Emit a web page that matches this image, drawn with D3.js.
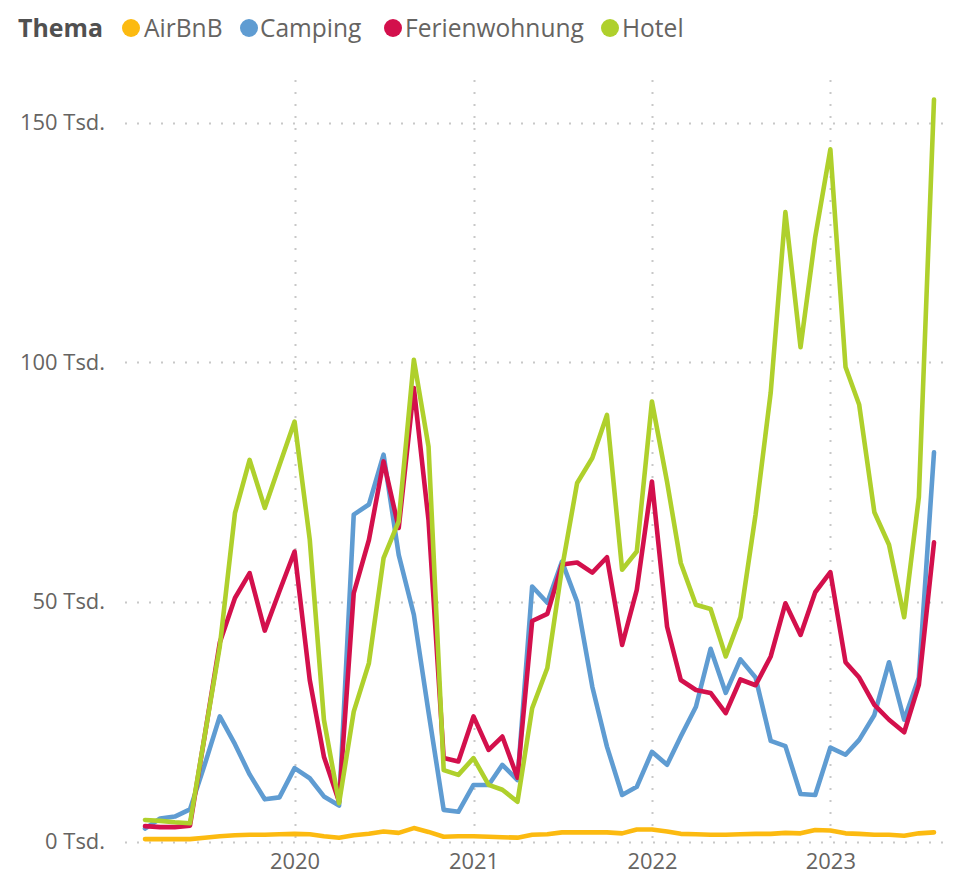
<!DOCTYPE html>
<html>
<head>
<meta charset="utf-8">
<script src="https://cdn.jsdelivr.net/npm/d3@7/dist/d3.min.js"></script>
<style>
  html, body { margin: 0; padding: 0; background: #ffffff; }
  svg { display: block; }
  text { font-family: "Segoe UI", "Open Sans", "Noto Sans", sans-serif; }
</style>
</head>
<body>
<svg id="chart" width="961" height="887"></svg>
<script>
// ---------------- DATA ----------------
const months = [
  "2019-03","2019-04","2019-05","2019-06","2019-07","2019-08","2019-09","2019-10","2019-11","2019-12",
  "2020-01","2020-02","2020-03","2020-04","2020-05","2020-06","2020-07","2020-08","2020-09","2020-10","2020-11","2020-12",
  "2021-01","2021-02","2021-03","2021-04","2021-05","2021-06","2021-07","2021-08","2021-09","2021-10","2021-11","2021-12",
  "2022-01","2022-02","2022-03","2022-04","2022-05","2022-06","2022-07","2022-08","2022-09","2022-10","2022-11","2022-12",
  "2023-01","2023-02","2023-03","2023-04","2023-05","2023-06","2023-07","2023-08"
];
const seriesNames = ["AirBnB", "Camping", "Ferienwohnung", "Hotel"];
const airbnb = [
  0.5,0.5,0.5,0.5,0.8,1.1,1.3,1.4,1.4,1.5,
  1.6,1.5,1.1,0.8,1.3,1.6,2.1,1.8,2.8,2.0,1.0,1.1,
  1.1,1.0,0.9,0.8,1.4,1.5,1.9,1.9,1.9,1.9,1.7,2.5,
  2.5,2.1,1.6,1.5,1.4,1.4,1.5,1.6,1.6,1.8,1.7,2.4,
  2.3,1.7,1.6,1.4,1.4,1.2,1.7,1.9
];
const camping = [
  2.7,4.8,5.2,6.7,16,26.1,20.3,14,8.8,9.2,
  15.3,13.2,9.4,7.5,68.2,70.3,80.7,59.8,47.3,27,6.6,6.2,
  11.8,11.8,16,12.8,53.2,49.8,58.4,50,32.3,19.8,9.7,11.4,
  18.7,16,21.9,28.1,40.2,31,38,34.2,21,19.9,9.9,9.7,
  19.6,18.1,21.2,26.4,37.4,25.4,34.2,81.2
];
const ferienwohnung = [
  3.2,3.0,3.0,3.3,22,41.5,50.8,56,44,52.2,
  60.5,33.7,17.7,8.3,51.8,62.9,79.3,65.4,94.6,67,17.4,16.7,
  26.1,19.1,21.9,13.3,46,47.5,57.8,58.2,56.1,59.3,41,52.5,
  75.1,44.8,33.7,31.6,31,26.8,33.8,32.6,38.6,49.7,43.1,52,
  56.2,37.4,34.2,28.5,25.4,22.8,32.7,62.4
];
const hotel = [
  4.5,4.3,4.0,3.8,22,40.7,68.5,79.6,69.6,78.5,
  87.6,63,25.4,8,27.1,37.2,59.1,66.8,100.5,82.4,14.9,13.9,
  17.4,11.8,10.8,8.3,27.8,36.2,57,74.8,80,89,56.7,60.5,
  91.8,75,58.1,49.4,48.5,38.6,46.8,68.2,93.7,131.3,103.1,126.1,
  144.4,99,91.1,68.7,61.9,46.8,71.8,154.8
];
const yTicks = [0, 50, 100, 150];
const yTickLabels = ["0 Tsd.", "50 Tsd.", "100 Tsd.", "150 Tsd."];
const xTicks = ["2020-01", "2021-01", "2022-01", "2023-01"];
const xTickLabels = ["2020", "2021", "2022", "2023"];
const legendTitle = "Thema";

// ---------------- STYLE ----------------
const colors = {
  "AirBnB": "#FCBA10",
  "Camping": "#5F9CD2",
  "Ferienwohnung": "#D3104C",
  "Hotel": "#AFD02C"
};
const axisColor = "#666462";
const gridColor = "#C8C8C8";

// ---------------- CHART ----------------
const svg = d3.select("#chart");
const parse = d3.timeParse("%Y-%m");
const dates = months.map(parse);

const x = d3.scaleTime()
  .domain([dates[0], dates[dates.length - 1]])
  .range([145, 934]);
const y = d3.scaleLinear()
  .domain([0, 150])
  .range([841.5, 122.5]);

const gridTop = 80, gridLeft = 125, gridRight = 950;

// fit font size to a target width
function fitSize(textSel, target, base) {
  textSel.style("font-size", base + "px");
  const w = textSel.node().getComputedTextLength();
  const s = base * target / w;
  textSel.style("font-size", s + "px");
  return s;
}

// horizontal gridlines
svg.append("g").selectAll("line").data(yTicks).join("line")
  .attr("x1", gridLeft).attr("x2", gridRight)
  .attr("y1", d => Math.round(y(d)) + 0.5).attr("y2", d => Math.round(y(d)) + 0.5)
  .attr("stroke", gridColor).attr("stroke-width", 2)
  .attr("stroke-dasharray", "2,10");

// vertical gridlines
svg.append("g").selectAll("line").data(xTicks).join("line")
  .attr("x1", d => Math.round(x(parse(d))) + 0.5).attr("x2", d => Math.round(x(parse(d))) + 0.5)
  .attr("y1", gridTop).attr("y2", y(0) + 2)
  .attr("stroke", gridColor).attr("stroke-width", 2)
  .attr("stroke-dasharray", "2,10");

// y axis labels
const yAxis = d3.axisLeft(y).tickValues(yTicks)
  .tickFormat((d, i) => yTickLabels[i]).tickSize(0).tickPadding(0);
const gy = svg.append("g").attr("transform", "translate(105,0)").call(yAxis);
gy.select(".domain").remove();
gy.selectAll("text").attr("fill", axisColor).attr("font-family", null);
const ySize = fitSize(gy.selectAll("text").filter((d) => d === 150), 85, 18);
gy.selectAll("text").style("font-size", ySize + "px");

// x axis labels
const xAxis = d3.axisBottom(x).tickValues(xTicks.map(parse))
  .tickFormat((d, i) => xTickLabels[i]).tickSize(0).tickPadding(0);
const gx = svg.append("g").attr("transform", "translate(0,853)").call(xAxis);
gx.select(".domain").remove();
gx.selectAll("text").attr("fill", axisColor).attr("font-family", null)
  .style("font-size", ySize + "px");

// lines
const allSeries = [
  { name: "AirBnB", values: airbnb },
  { name: "Camping", values: camping },
  { name: "Ferienwohnung", values: ferienwohnung },
  { name: "Hotel", values: hotel }
];
const line = d3.line()
  .x((d, i) => x(dates[i]))
  .y(d => y(d));
svg.append("g").selectAll("path").data(allSeries).join("path")
  .attr("d", d => line(d.values))
  .attr("fill", "none")
  .attr("stroke", d => colors[d.name])
  .attr("stroke-width", 4.6)
  .attr("stroke-linejoin", "round")
  .attr("stroke-linecap", "round");

// legend
const lg = svg.append("g");
const titleT = lg.append("text").text(legendTitle)
  .attr("x", 18).attr("y", 28).attr("dy", "0.35em")
  .attr("fill", "#505050").attr("font-weight", "bold");
fitSize(titleT, 85, 20);

const legendPos = [
  { name: "AirBnB", cx: 131, tx: 144 },
  { name: "Camping", cx: 249, tx: 260 },
  { name: "Ferienwohnung", cx: 393, tx: 405 },
  { name: "Hotel", cx: 610, tx: 622 }
];
const items = lg.selectAll("g.item").data(legendPos).join("g").attr("class", "item");
items.append("circle")
  .attr("cx", d => d.cx).attr("cy", 28).attr("r", 9)
  .attr("fill", d => colors[d.name]);
const labels = items.append("text")
  .text(d => d.name)
  .attr("x", d => d.tx).attr("y", 28).attr("dy", "0.35em")
  .attr("fill", axisColor);
const lSize = fitSize(labels.filter(d => d.name === "Ferienwohnung"), 179, 20);
labels.style("font-size", lSize + "px");
</script>
</body>
</html>
